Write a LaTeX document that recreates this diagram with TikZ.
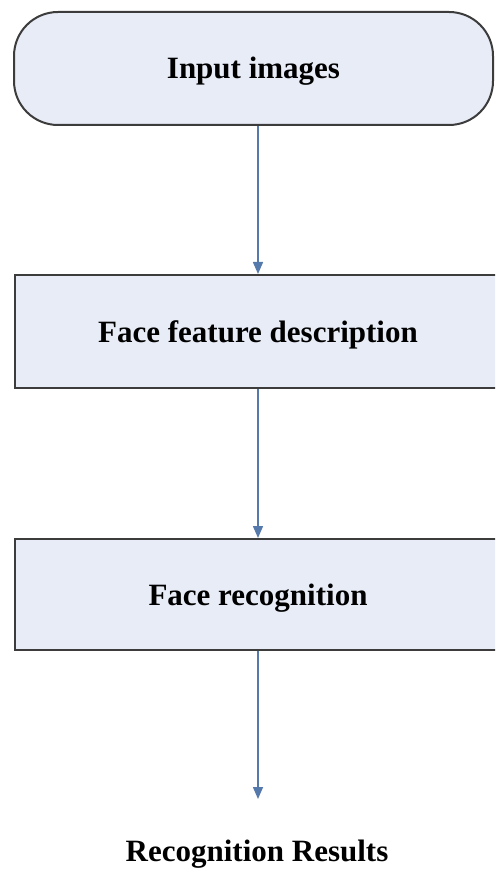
\documentclass[tikz,border=0pt]{standalone}
\usepackage{fontspec}
\setmainfont{Liberation Serif}
\usetikzlibrary{arrows.meta}
\definecolor{boxfill}{HTML}{E8ECF7}
\definecolor{boxline}{HTML}{3C3C3C}
\definecolor{arrowcol}{HTML}{5679AC}
\tikzset{
  lbl/.style={font=\fontsize{31}{31}\selectfont\bfseries, text height=21pt, text depth=0pt, inner sep=0pt},
  boxstyle/.style={lbl, draw=boxline, line width=2pt, fill=boxfill, minimum width=486pt},
  flow/.style={draw=arrowcol, line width=1.5pt, -{Triangle[length=12pt,width=10pt]}}
}
\begin{document}
\begin{tikzpicture}[x=1pt,y=-1pt]
\useasboundingbox (0,0) rectangle (495,874);
\clip (0,0) rectangle (495,874);
\node[boxstyle, minimum width=479pt, minimum height=113pt, rounded corners=44pt] (T) at (253.5,68.5) {Input images};
\node[boxstyle, minimum height=113pt] (B1) at (258,331.5) {Face feature description};
\node[boxstyle, minimum height=111pt] (B2) at (258,594.5) {Face recognition};
\coordinate (E) at (258,799);
\node[lbl] (R) at (257,851) {Recognition Results};
\draw[flow] (T.south -| B1.north) -- (B1.north);
\draw[flow] (B1.south) -- (B2.north);
\draw[flow] (B2.south) -- (E);
\end{tikzpicture}
\end{document}
